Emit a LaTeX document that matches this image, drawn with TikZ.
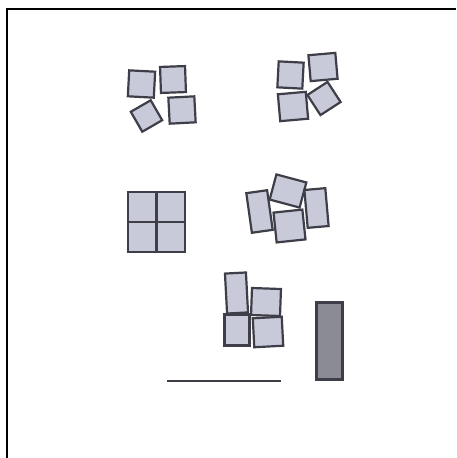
\documentclass[tikz,border=0pt]{standalone}
\definecolor{tilefill}{HTML}{C8C9D9}
\definecolor{tileline}{HTML}{3E3E48}
\definecolor{barfill}{HTML}{8A8B94}
\begin{document}
\begin{tikzpicture}[x=1pt,y=-1pt,
    tile/.style={draw=tileline,fill=tilefill,line width=2.2pt,inner sep=0pt,
      minimum width=#1},
    tile/.default=26pt]
\useasboundingbox (0,0) rectangle (456,458);

   % frame
   \coordinate (fbot) at (7,458);
   \coordinate (fcorner) at (7,9);
   \coordinate (fright) at (456,9);
   \draw[line width=2.4pt] (fbot) -- (fcorner) -- (fright);

   % top left group
   \node[tile,minimum height=26pt,rotate=-3] at (141.5,84)  (a1) {};
   \node[tile=25pt,minimum height=26pt,rotate=2] at (173,79.5)  (a2) {};
   \node[tile=23pt,minimum height=23pt,rotate=30] at (146.5,116)  (a3) {};
   \node[tile,minimum height=26pt,rotate=3] at (182,110)  (a4) {};

   % top right group
   \node[tile=25pt,minimum height=26pt,rotate=-3] at (290.5,75)  (b1) {};
   \node[tile=27pt,minimum height=26pt,rotate=5] at (323,67)  (b2) {};
   \node[tile=28pt,minimum height=27pt,rotate=5] at (293,106.5)  (b3) {};
   \node[tile=24pt,minimum height=24pt,rotate=33] at (324,98.5)  (b4) {};

   % square of four
   \node[tile=28.5pt,minimum height=30pt] at (142.25,207)  (c1) {};
   \node[tile=28.5pt,minimum height=30pt] at (170.75,207)  (c2) {};
   \node[tile=28.5pt,minimum height=30pt] at (142.25,237)  (c3) {};
   \node[tile=28.5pt,minimum height=30pt] at (170.75,237)  (c4) {};

   % middle right group
   \node[tile=21pt,minimum height=40pt,rotate=8] at (259.5,211.5)  (d1) {};
   \node[tile=31pt,minimum height=26pt,rotate=-15] at (288,191)  (d2) {};
   \node[tile=29pt,minimum height=30pt,rotate=6] at (289.5,226)  (d3) {};
   \node[tile=21pt,minimum height=38pt,rotate=5] at (316.5,208)  (d4) {};

   % bottom group
   \node[tile=21pt,minimum height=40pt,rotate=3] at (236.5,293)  (e1) {};
   \node[tile=29pt,minimum height=27pt,rotate=-2] at (266,302)  (e2) {};
   \node[tile=25pt,minimum height=31pt] at (237,330)  (e3) {};
   \node[tile=29pt,minimum height=29pt,rotate=3] at (268,332)  (e4) {};

   % bar and rule
   \node[tile=26pt,minimum height=77pt,fill=barfill] at (329.5,341)  (bar) {};
   \coordinate (rl) at (167,381);
   \coordinate (rr) at (281,381);
   \draw[line width=2.4pt,tileline] (rl) -- (rr);

\end{tikzpicture}
\end{document}
